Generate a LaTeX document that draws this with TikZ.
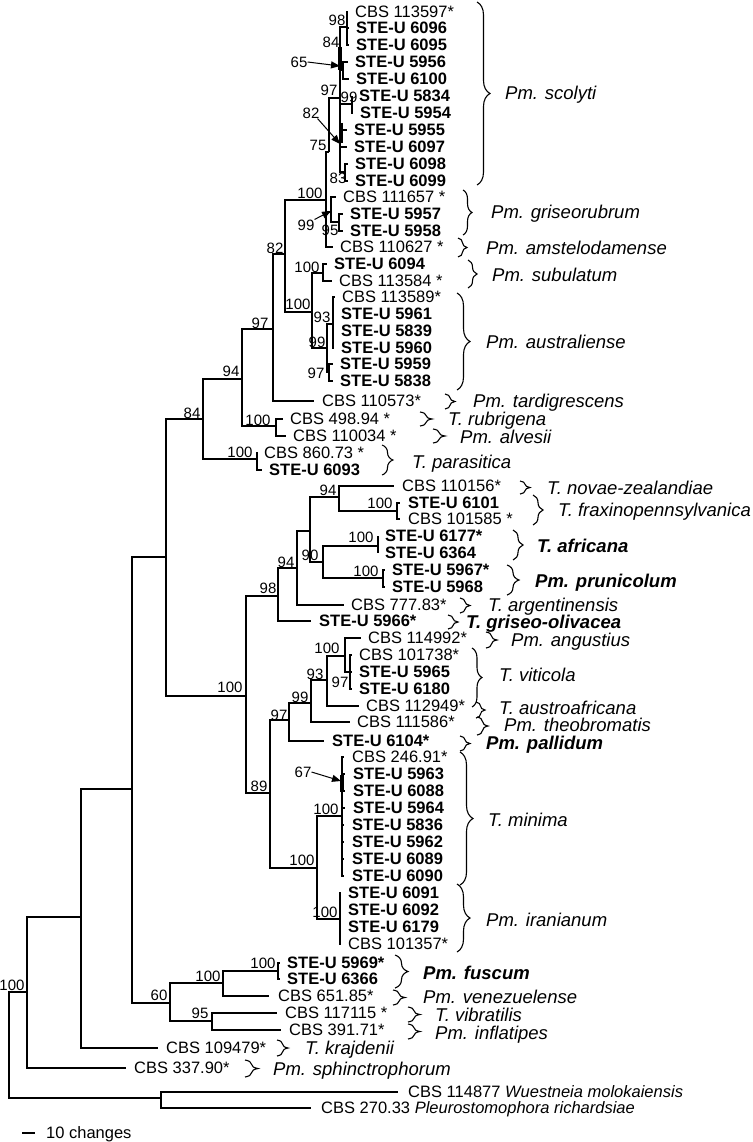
\documentclass[tikz,border=0pt]{standalone}
\usepackage{fontspec}
\setmainfont{Liberation Sans}
\usetikzlibrary{decorations.pathreplacing,arrows.meta}
\newcommand\tipfont{\fontsize{16.5}{18}\selectfont}
\newcommand\supfont{\fontsize{15}{17}\selectfont}
\newcommand\spfont{\fontsize{18.5}{20}\selectfont}
\tikzset{
  br/.style={line width=1.2pt},
  thk/.style={line width=3.4pt},
  arr/.style={line width=1pt,-{Triangle[length=9pt,width=7pt]}},
  tipn/.style={anchor=west,inner sep=0pt,font=\tipfont,text height=11.8pt,text depth=0pt},
  tipb/.style={tipn,font=\tipfont\bfseries},
  supp/.style={inner sep=0pt,font=\supfont,text height=10.7pt,text depth=0pt},
  spc/.style={anchor=west,inner sep=0pt,font=\spfont\itshape,text height=13.2pt,text depth=0pt},
  spcb/.style={spc,font=\spfont\bfseries\itshape},
  brc/.style={decorate,decoration={brace,amplitude=#1},line width=1.1pt},
}
\begin{document}
\begin{tikzpicture}[x=1pt,y=-1pt]
\useasboundingbox (0,0) rectangle (752,1142);
% ---------- tips ----------
\node[tipn] (t01) at (355,12) {CBS 113597*};
\node[tipb] (t02) at (356,28) {STE-U 6096};
\node[tipb] (t03) at (356,45) {STE-U 6095};
\node[tipb] (t04) at (355,62) {STE-U 5956};
\node[tipb] (t05) at (356,79) {STE-U 6100};
\node[tipb] (t06) at (359,96) {STE-U 5834};
\node[tipb] (t07) at (360,113) {STE-U 5954};
\node[tipb] (t08) at (354,130) {STE-U 5955};
\node[tipb] (t09) at (354,147) {STE-U 6097};
\node[tipb] (t10) at (355,164) {STE-U 6098};
\node[tipb] (t11) at (355,181) {STE-U 6099};
\node[tipn] (t12) at (343,197) {CBS 111657 *};
\node[tipb] (t13) at (350,214) {STE-U 5957};
\node[tipb] (t14) at (350,231) {STE-U 5958};
\node[tipn] (t15) at (340,247) {CBS 110627 *};
\node[tipb] (t16) at (334,264) {STE-U 6094};
\node[tipn] (t17) at (339,281) {CBS 113584 *};
\node[tipn] (t18) at (342,297) {CBS 113589*};
\node[tipb] (t19) at (341,314) {STE-U 5961};
\node[tipb] (t20) at (341,331) {STE-U 5839};
\node[tipb] (t21) at (341,348) {STE-U 5960};
\node[tipb] (t22) at (340,364) {STE-U 5959};
\node[tipb] (t23) at (340,381) {STE-U 5838};
\node[tipn] (t24) at (322,401) {CBS 110573*};
\node[tipn] (t25) at (290,419) {CBS 498.94 *};
\node[tipn] (t26) at (293,436) {CBS 110034 *};
\node[tipn] (t27) at (264,453) {CBS 860.73 *};
\node[tipb] (t28) at (269,470) {STE-U 6093};
\node[tipn] (t29) at (402,486) {CBS 110156*};
\node[tipb] (t30) at (408,503) {STE-U 6101};
\node[tipn] (t31) at (408,519) {CBS 101585 *};
\node[tipb] (t32) at (385,536) {STE-U 6177*};
\node[tipb] (t33) at (385,553) {STE-U 6364};
\node[tipb] (t34) at (392,570) {STE-U 5967*};
\node[tipb] (t35) at (392,587) {STE-U 5968};
\node[tipn] (t36) at (351,605) {CBS 777.83*};
\node[tipb] (t37) at (319,621) {STE-U 5966*};
\node[tipn] (t38) at (368,638) {CBS 114992*};
\node[tipn] (t39) at (359,655) {CBS 101738*};
\node[tipb] (t40) at (359,672) {STE-U 5965};
\node[tipb] (t41) at (359,689) {STE-U 6180};
\node[tipn] (t42) at (366,706) {CBS 112949*};
\node[tipn] (t43) at (357,722) {CBS 111586*};
\node[tipb] (t44) at (332,741) {STE-U 6104*};
\node[tipn] (t45) at (352,757) {CBS 246.91*};
\node[tipb] (t46) at (353,774) {STE-U 5963};
\node[tipb] (t47) at (353,791) {STE-U 6088};
\node[tipb] (t48) at (353,808) {STE-U 5964};
\node[tipb] (t49) at (352,825) {STE-U 5836};
\node[tipb] (t50) at (352,842) {STE-U 5962};
\node[tipb] (t51) at (352,859) {STE-U 6089};
\node[tipb] (t52) at (352,876) {STE-U 6090};
\node[tipb] (t53) at (348,893) {STE-U 6091};
\node[tipb] (t54) at (348,910) {STE-U 6092};
\node[tipb] (t55) at (348,927) {STE-U 6179};
\node[tipn] (t56) at (348,944) {CBS 101357*};
\node[tipb] (t57) at (287,963) {STE-U 5969*};
\node[tipb] (t58) at (287,979) {STE-U 6366};
\node[tipn] (t59) at (278,996) {CBS 651.85*};
\node[tipn] (t60) at (285,1013) {CBS 117115 *};
\node[tipn] (t61) at (289,1030) {CBS 391.71*};
\node[tipn] (t62) at (166,1048) {CBS 109479*};
\node[tipn] (t63) at (134,1068) {CBS 337.90*};
\node[tipn] (t64) at (408,1092) {CBS 114877 \textit{Wuestneia molokaiensis}};
\node[tipn] (t65) at (321,1108) {CBS 270.33 \textit{Pleurostomophora richardsiae}};
% ---------- internal nodes ----------
\coordinate (R) at (9,1045);
\coordinate (n27) at (27,992);
\coordinate (n81) at (81,917);
\coordinate (n132) at (132,789);
\coordinate (n166) at (166,557);
\coordinate (n203) at (203,419);
\coordinate (n242) at (242,379);
\coordinate (n273) at (273,329);
\coordinate (n285) at (285,254);
\coordinate (n326) at (326,200);
\coordinate (n329) at (329,152);
\coordinate (n340) at (340,98);
\coordinate (n347) at (347,27);
\coordinate (n343) at (343,70);
\coordinate (n353) at (352,104);
\coordinate (n345) at (345,172);
\coordinate (ngr) at (331,212);
\coordinate (n339) at (339,222);
\coordinate (n312) at (312,312);
\coordinate (n323) at (323,273);
\coordinate (n327) at (327,348);
\coordinate (n333) at (333,324);
\coordinate (n329b) at (329,372);
\coordinate (n276) at (276,426);
\coordinate (n257) at (257,459);
\coordinate (n246) at (246,696);
\coordinate (n278) at (278,596);
\coordinate (n297) at (297,568);
\coordinate (n310) at (310,531);
\coordinate (n339b) at (339,497);
\coordinate (n397) at (397,511);
\coordinate (n323b) at (323,562);
\coordinate (n378) at (378,546);
\coordinate (n383) at (383,578);
\coordinate (n270) at (270,793);
\coordinate (n289) at (289,720);
\coordinate (n311) at (311,703);
\coordinate (n327c) at (327,680);
\coordinate (n345c) at (345,656);
\coordinate (n350) at (350,672);
\coordinate (n317) at (317,868);
\coordinate (n342) at (342,816);
\coordinate (n340c) at (340,919);
\coordinate (n170) at (170,1003);
\coordinate (n223) at (223,983);
\coordinate (n278b) at (278,971);
\coordinate (n212) at (212,1021);
\coordinate (n161) at (161,1098);
% ---------- branches ----------
\draw[br] (R) |- (n27); \draw[br] (R) |- (n161);
\draw[br] (n27) |- (n81); \draw[br] (n27) |- ([xshift=-8pt]t63.west);
\draw[br] (n81) |- (n132); \draw[br] (n81) |- ([xshift=-8pt]t62.west);
\draw[br] (n132) |- (n166); \draw[br] (n132) |- (n170);
\draw[br] (n166) |- (n203); \draw[br] (n166) |- (n246);
\draw[br] (n203) |- (n242); \draw[br] (n203) |- (n257);
\draw[br] (n242) |- (n273); \draw[br] (n242) |- (n276);
\draw[br] (n273) |- (n285); \draw[br] (n273) |- ([xshift=-8pt]t24.west);
\draw[br] (n285) |- (n326); \draw[br] (n285) |- (n312);
\draw[br] (n326) |- (n329); \draw[br] (n326) |- (ngr); \draw[br] (n326) |- ([xshift=-7pt]t15.west);
\draw[br] (n329) |- (n340);
\draw[br] (n340) |- (n347); \draw[br] (n340) |- (n343); \draw[br] (n340) |- (n353);
\draw[br] (n340) |- ([xshift=-7pt]t08.west); \draw[br] (n340) |- ([xshift=-7pt]t09.west);
\draw[br] (n340) |- (n345);
\draw[br] (n347) |- ([xshift=-7pt]t01.west); \draw[br] (n347) |- ([xshift=-7pt]t02.west); \draw[br] (n347) |- ([xshift=-7pt]t03.west);
\draw[br] (n343) |- ([xshift=-7pt]t04.west); \draw[br] (n343) |- ([xshift=-7pt]t05.west);
\draw[br] (n353) |- ([xshift=-7pt]t06.west); \draw[br] (n353) |- ([xshift=-7pt]t07.west);
\draw[br] (n345) |- ([xshift=-7pt]t10.west); \draw[br] (n345) |- ([xshift=-7pt]t11.west);
\draw[br] (ngr) |- ([xshift=-7pt]t12.west); \draw[br] (ngr) |- (n339);
\draw[br] (n339) |- ([xshift=-7pt]t13.west); \draw[br] (n339) |- ([xshift=-7pt]t14.west);
\draw[br] (n312) |- (n323); \draw[br] (n312) |- (n327);
\draw[br] (n323) |- ([xshift=-7pt]t16.west); \draw[br] (n323) |- ([xshift=-7pt]t17.west);
\draw[br] (n327) |- (n333); \draw[br] (n327) |- (n329b);
\draw[br] (n333) |- ([xshift=-7pt]t18.west); \draw[br] (n333) |- ([xshift=-7pt]t19.west);
\draw[br] (n333) |- ([xshift=-7pt]t20.west); \draw[br] (n333) |- ([xshift=-7pt]t21.west);
\draw[br] (n329b) |- ([xshift=-7pt]t22.west); \draw[br] (n329b) |- ([xshift=-7pt]t23.west);
\draw[br] (n276) |- ([xshift=-7pt]t25.west); \draw[br] (n276) |- ([xshift=-7pt]t26.west);
\draw[br] (n257) |- ([xshift=-6pt]t27.west); \draw[br] (n257) |- ([xshift=-7pt]t28.west);
\draw[br] (n246) |- (n278); \draw[br] (n246) |- (n270);
\draw[br] (n278) |- (n297); \draw[br] (n278) |- ([xshift=-8pt]t37.west);
\draw[br] (n297) |- (n310); \draw[br] (n297) |- ([xshift=-7pt]t36.west);
\draw[br] (n310) |- (n339b); \draw[br] (n310) |- (n323b);
\draw[br] (n339b) |- ([xshift=-8pt]t29.west); \draw[br] (n339b) |- (n397);
\draw[br] (n397) |- ([xshift=-8pt]t30.west); \draw[br] (n397) |- ([xshift=-8pt]t31.west);
\draw[br] (n323b) |- (n378); \draw[br] (n323b) |- (n383);
\draw[br] (n378) |- ([xshift=-7pt]t32.west); \draw[br] (n378) |- ([xshift=-7pt]t33.west);
\draw[br] (n383) |- ([xshift=-7pt]t34.west); \draw[br] (n383) |- ([xshift=-7pt]t35.west);
\draw[br] (n270) |- (n289); \draw[br] (n270) |- (n317);
\draw[br] (n289) |- (n311); \draw[br] (n289) |- ([xshift=-8pt]t44.west);
\draw[br] (n311) |- (n327c); \draw[br] (n311) |- ([xshift=-7pt]t43.west);
\draw[br] (n327c) |- (n345c); \draw[br] (n327c) |- ([xshift=-7pt]t42.west);
\draw[br] (n345c) |- ([xshift=-7pt]t38.west); \draw[br] (n345c) |- (n350);
\draw[br] (n350) |- ([xshift=-7pt]t39.west); \draw[br] (n350) |- ([xshift=-7pt]t40.west); \draw[br] (n350) |- ([xshift=-7pt]t41.west);
\draw[br] (n317) |- (n342); \draw[br] (n317) |- (n340c);
\foreach \t in {t45,t46,t47,t48,t49,t50,t51,t52}{\draw[br] (n342) |- ([xshift=-8pt]\t.west);}
\foreach \t in {t53,t54,t55,t56}{\draw[br] (n340c) |- ([xshift=-7pt]\t.west);}
\draw[br] (n170) |- (n223); \draw[br] (n170) |- (n212);
\draw[br] (n223) |- (n278b); \draw[br] (n223) |- ([xshift=-9pt]t59.west);
\draw[br] (n278b) |- ([xshift=-7pt]t57.west); \draw[br] (n278b) |- ([xshift=-7pt]t58.west);
\draw[br] (n212) |- ([xshift=-8pt]t60.west); \draw[br] (n212) |- ([xshift=-8pt]t61.west);
\draw[br] (n161) |- ([xshift=-10pt]t64.west); \draw[br] (n161) |- ([xshift=-10pt]t65.west);
% thick short segments
\coordinate (k1a) at (340,47); \coordinate (k1b) at (340,70);
\coordinate (k2a) at (341,123); \coordinate (k2b) at (341,143);
\coordinate (k3a) at (342,775); \coordinate (k3b) at (342,792);
\draw[thk] (k1a) -- (k1b); \draw[thk] (k2a) -- (k2b); \draw[thk] (k3a) -- (k3b);
% ---------- support values ----------
\node[supp] (s01) at (337,20) {98};
\node[supp] (s02) at (331,42) {84};
\node[supp] (s03) at (299,62) {65};
\node[supp] (s04) at (329,90) {97};
\node[supp] (s05) at (349,97) {99};
\node[supp] (s06) at (311,113) {82};
\node[supp] (s07) at (318,145) {75};
\node[supp] (s08) at (338,178) {83};
\node[supp] (s09) at (310,193) {100};
\node[supp] (s10) at (306,225) {99};
\node[supp] (s11) at (330,230) {95};
\node[supp] (s12) at (275,248) {82};
\node[supp] (s13) at (307,267) {100};
\node[supp] (s14) at (298,304) {100};
\node[supp] (s15) at (322,317) {93};
\node[supp] (s16) at (317,342) {99};
\node[supp] (s17) at (316,373) {97};
\node[supp] (s18) at (260,323) {97};
\node[supp] (s19) at (231,371) {94};
\node[supp] (s20) at (192,413) {84};
\node[supp] (s21) at (258,420) {100};
\node[supp] (s22) at (240,452) {100};
\node[supp] (s23) at (328,490) {94};
\node[supp] (s24) at (380,503) {100};
\node[supp] (s25) at (310,555) {90};
\node[supp] (s26) at (361,537) {100};
\node[supp] (s27) at (366,571) {100};
\node[supp] (s28) at (286,562) {94};
\node[supp] (s29) at (268,588) {98};
\node[supp] (s30) at (230,687) {100};
\node[supp] (s31) at (327,648) {100};
\node[supp] (s32) at (340,682) {97};
\node[supp] (s33) at (315,674) {93};
\node[supp] (s34) at (300,697) {99};
\node[supp] (s35) at (279,715) {97};
\node[supp] (s36) at (259,786) {89};
\node[supp] (s37) at (303,772) {67};
\node[supp] (s38) at (326,809) {100};
\node[supp] (s39) at (302,860) {100};
\node[supp] (s40) at (325,912) {100};
\node[supp] (s41) at (263,963) {100};
\node[supp] (s42) at (208,976) {100};
\node[supp] (s43) at (159,995) {60};
\node[supp] (s44) at (200,1013) {95};
\node[supp] (s45) at (12,985) {100};
% arrows
\coordinate (a65) at (340,66);
\coordinate (a82) at (340,144);
\coordinate (a99) at (331,211);
\coordinate (a67) at (341,781);
\draw[arr] (s03.east) -- (a65);
\draw[arr] ([xshift=-2pt]s06.south east) -- (a82);
\draw[arr] (s10.north east) -- (a99);
\draw[arr] (s37.east) -- (a67);
% ---------- braces and species ----------
\draw[brc=13] (477,2) -- (477,185);   \node[spc] (p01) at (505,93) {Pm. scolyti};
\draw[brc=9] (463,190) -- (463,235);  \node[spc] (p02) at (491,212) {Pm. griseorubrum};
\draw[brc=9] (458,238) -- (458,257);  \node[spc] (p03) at (486,248) {Pm. amstelodamense};
\draw[brc=9] (468,260) -- (468,288);  \node[spc] (p04) at (492,275) {Pm. subulatum};
\draw[brc=13] (457,293) -- (457,390); \node[spc] (p05) at (486,342) {Pm. australiense};
\draw[brc=10] (445,394) -- (445,409); \node[spc] (p06) at (473,401) {Pm. tardigrescens};
\draw[brc=12] (420,412) -- (420,426); \node[spc] (p07) at (448,419) {T. rubrigena};
\draw[brc=12] (433,429) -- (433,443); \node[spc] (p08) at (460,437) {Pm. alvesii};
\draw[brc=11] (382,445) -- (382,475); \node[spc] (p09) at (412,462) {T. parasitica};
\draw[brc=10] (520,481) -- (520,494); \node[spc] (p10) at (547,488) {T. novae-zealandiae};
\draw[brc=10] (533,495) -- (533,525); \node[spc] (p11) at (558,510) {T. fraxinopennsylvanica};
\draw[brc=10] (513,530) -- (513,560); \node[spcb] (p12) at (537,546) {T. africana};
\draw[brc=12] (507,565) -- (507,595); \node[spcb] (p13) at (535,581) {Pm. prunicolum};
\draw[brc=10] (460,598) -- (460,613); \node[spc] (p14) at (488,605) {T. argentinensis};
\draw[brc=10] (448,615) -- (448,629); \node[spcb] (p15) at (466,622) {T. griseo-olivacea};
\draw[brc=11] (486,632) -- (486,648); \node[spc] (p16) at (511,640) {Pm. angustius};
\draw[brc=10] (472,648) -- (472,707); \node[spc] (p17) at (499,675) {T. viticola};
\draw[brc=9] (476,702) -- (476,718);  \node[spc] (p18) at (499,708) {T. austroafricana};
\draw[brc=11] (477,717) -- (477,735); \node[spc] (p19) at (504,725) {Pm. theobromatis};
\draw[brc=10] (460,736) -- (460,751); \node[spcb] (p20) at (486,743) {Pm. pallidum};
\draw[brc=13] (460,752) -- (460,885); \node[spc] (p21) at (488,820) {T. minima};
\draw[brc=13] (457,884) -- (457,952); \node[spc] (p22) at (486,920) {Pm. iranianum};
\draw[brc=13] (395,955) -- (395,988); \node[spcb] (p23) at (423,973) {Pm. fuscum};
\draw[brc=12] (393,990) -- (393,1005); \node[spc] (p24) at (423,997) {Pm. venezuelense};
\draw[brc=12] (408,1007) -- (408,1022); \node[spc] (p25) at (435,1015) {T. vibratilis};
\draw[brc=12] (408,1024) -- (408,1039); \node[spc] (p26) at (435,1033) {Pm. inflatipes};
\draw[brc=11] (277,1040) -- (277,1056); \node[spc] (p27) at (305,1048) {T. krajdenii};
\draw[brc=13] (245,1060) -- (245,1077); \node[spc] (p28) at (273,1069) {Pm. sphinctrophorum};
% ---------- scale bar ----------
\coordinate (sb1) at (22,1133); \coordinate (sb2) at (35,1133);
\draw[br] (sb1) -- (sb2);
\node[tipn] (sbl) at (46,1133) {10 changes};
\end{tikzpicture}
\end{document}
